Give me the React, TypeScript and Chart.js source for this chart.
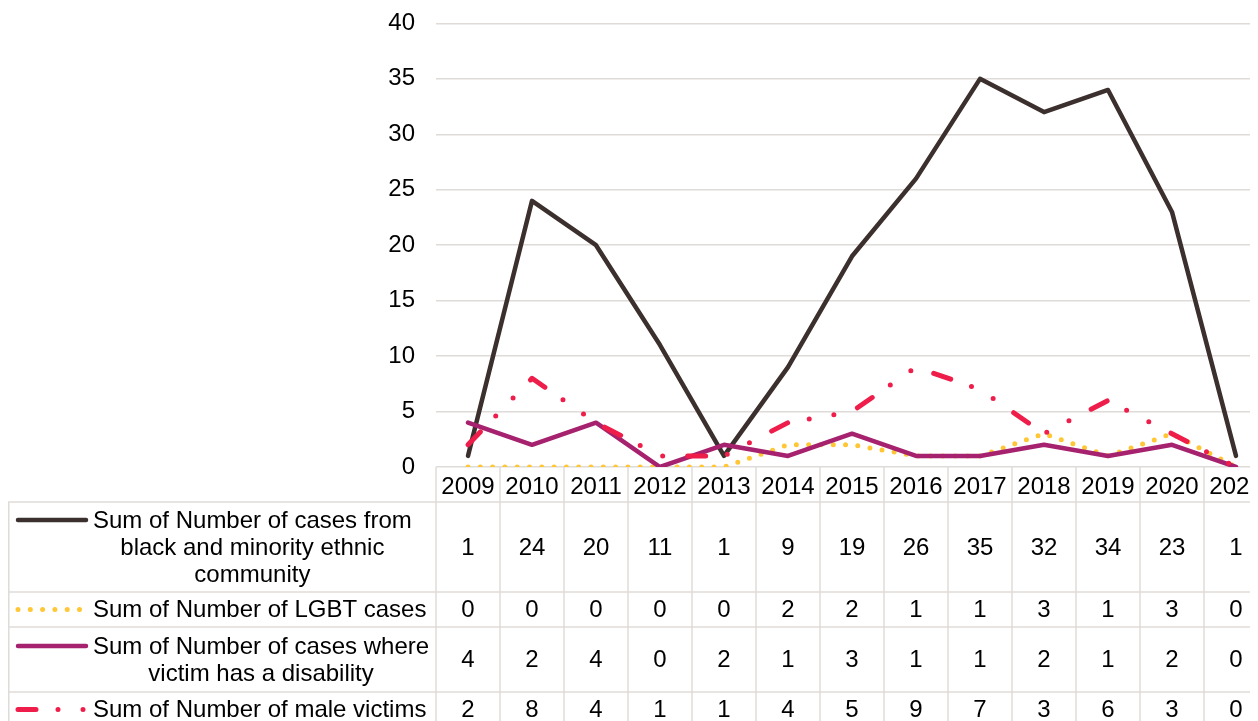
import React, { useEffect, useRef } from "react";
import { Chart, registerables } from "chart.js";

Chart.register(...registerables);

const years = ["2009","2010","2011","2012","2013","2014","2015","2016","2017","2018","2019","2020","2021"];
const bmeCases = [1, 24, 20, 11, 1, 9, 19, 26, 35, 32, 34, 23, 1];
const lgbtCases = [0, 0, 0, 0, 0, 2, 2, 1, 1, 3, 1, 3, 0];
const disabilityCases = [4, 2, 4, 0, 2, 1, 3, 1, 1, 2, 1, 2, 0];
const maleVictims = [2, 8, 4, 1, 1, 4, 5, 9, 7, 3, 6, 3, 0];

const seriesLabels: string[][] = [
  ["Sum of Number of cases from", "black and minority ethnic", "community"],
  ["Sum of Number of LGBT cases"],
  ["Sum of Number of cases where", "victim has a disability"],
  ["Sum of Number of male victims"],
];

const FONT = "'Liberation Sans', Arial, sans-serif";
const FS = 24;
const GRID = "#dfdbd8";

const styles = [
  { color: "#3b302d", dash: [] as number[], width: 4.5 },
  { color: "#ffc735", dash: [0, 12.3], width: 5 },
  { color: "#a6216e", dash: [] as number[], width: 4.5 },
  { color: "#ee1d4a", dash: [18, 22, 0, 25, 0, 25], width: 5 },
];

const ROW_H = [90, 35, 65, 35];
const YEAR_ROW = 35;

const tablePlugin = {
  id: "dataTable",
  afterDraw(chart: any) {
    const ctx = chart.ctx;
    const xs = chart.scales.x;
    const ca = chart.chartArea;
    const data = [bmeCases, lgbtCases, disabilityCases, maleVictims];
    const colW = xs.getPixelForValue(1) - xs.getPixelForValue(0);
    const n = years.length;
    const tableLeft = 0;
    const top0 = ca.bottom;
    const top1 = top0 + YEAR_ROW;
    const rowTops: number[] = [];
    let y = top1;
    for (const h of ROW_H) { rowTops.push(y); y += h; }
    const bottom = y;
    ctx.save();
    ctx.strokeStyle = GRID;
    ctx.lineWidth = 1.5;
    ctx.beginPath();
    for (let i = 0; i <= n; i++) {
      const x = xs.getPixelForValue(0) - colW / 2 + i * colW;
      ctx.moveTo(x, top0);
      ctx.lineTo(x, bottom);
    }
    ctx.moveTo(tableLeft + 0.75, top1);
    ctx.lineTo(tableLeft + 0.75, bottom);
    ctx.moveTo(tableLeft, top1);
    ctx.lineTo(chart.width, top1);
    for (let r = 0; r < ROW_H.length; r++) {
      const yy = rowTops[r] + ROW_H[r];
      ctx.moveTo(tableLeft, yy);
      ctx.lineTo(chart.width, yy);
    }
    ctx.stroke();

    ctx.font = `${FS}px ${FONT}`;
    ctx.fillStyle = "#000";
    ctx.textBaseline = "middle";
    const lineH = 27;
    for (let r = 0; r < 4; r++) {
      const cy = rowTops[r] + ROW_H[r] / 2;
      ctx.textAlign = "center";
      for (let i = 0; i < n; i++) {
        ctx.fillText(String(data[r][i]), xs.getPixelForValue(i), cy + 1);
      }
      const lines = seriesLabels[r];
      const maxW = Math.max(...lines.map((l) => ctx.measureText(l).width));
      const blockLeft = 85;
      const firstY = cy - ((lines.length - 1) * lineH) / 2;
      lines.forEach((l, k) => {
        ctx.fillText(l, blockLeft + maxW / 2, firstY + k * lineH + 1);
      });
      const s = styles[r];
      const sy = firstY;
      ctx.save();
      ctx.strokeStyle = s.color;
      ctx.lineWidth = s.width;
      ctx.lineCap = "round";
      ctx.setLineDash(s.dash);
      ctx.beginPath();
      ctx.moveTo(10, sy);
      ctx.lineTo(78, sy);
      ctx.stroke();
      ctx.restore();
    }
    ctx.restore();
  },
};

export default function App() {
  const ref = useRef<HTMLCanvasElement | null>(null);
  useEffect(() => {
    if (!ref.current) return;
    const mk = (label: string, data: number[], i: number, order: number) => ({
      label,
      data,
      borderColor: styles[i].color,
      backgroundColor: styles[i].color,
      borderWidth: styles[i].width,
      borderDash: styles[i].dash,
      borderCapStyle: "round",
      borderJoinStyle: "round",
      pointRadius: 0,
      tension: 0,
      order,
    });
    const chart = new Chart(ref.current, {
      type: "line",
      data: {
        labels: years,
        datasets: [
          mk(seriesLabels[0].join(" "), bmeCases, 0, 3),
          mk(seriesLabels[1].join(" "), lgbtCases, 1, 2),
          mk(seriesLabels[2].join(" "), disabilityCases, 2, 1),
          mk(seriesLabels[3].join(" "), maleVictims, 3, 0),
        ] as any,
      },
      options: {
        responsive: false,
        animation: false,
        devicePixelRatio: 1,
        layout: { padding: { left: 0, right: 2, top: 0, bottom: 0 } },
        plugins: { legend: { display: false }, tooltip: { enabled: false } },
        scales: {
          x: {
            type: "category",
            offset: true,
            grid: { display: false, drawTicks: false },
            border: { display: false },
            ticks: {
              color: "#000",
              font: { family: FONT, size: FS },
              maxRotation: 0,
              autoSkip: false,
              padding: 6,
            },
            afterFit: (s: any) => { s.height = 261; },
          },
          y: {
            min: 0,
            max: 40,
            grid: { color: GRID, lineWidth: 1.5, drawTicks: false },
            border: { display: false },
            ticks: {
              stepSize: 5,
              color: "#000",
              font: { family: FONT, size: FS },
              padding: 21,
            },
            afterFit: (s: any) => { s.width = 428; },
          },
        },
      },
      plugins: [tablePlugin],
    });
    return () => chart.destroy();
  }, []);
  return (
    <div style={{ width: 1250, height: 713, overflow: "hidden" }}>
      <canvas ref={ref} width={1262} height={740} style={{ display: "block", marginTop: -20 }} />
    </div>
  );
}
